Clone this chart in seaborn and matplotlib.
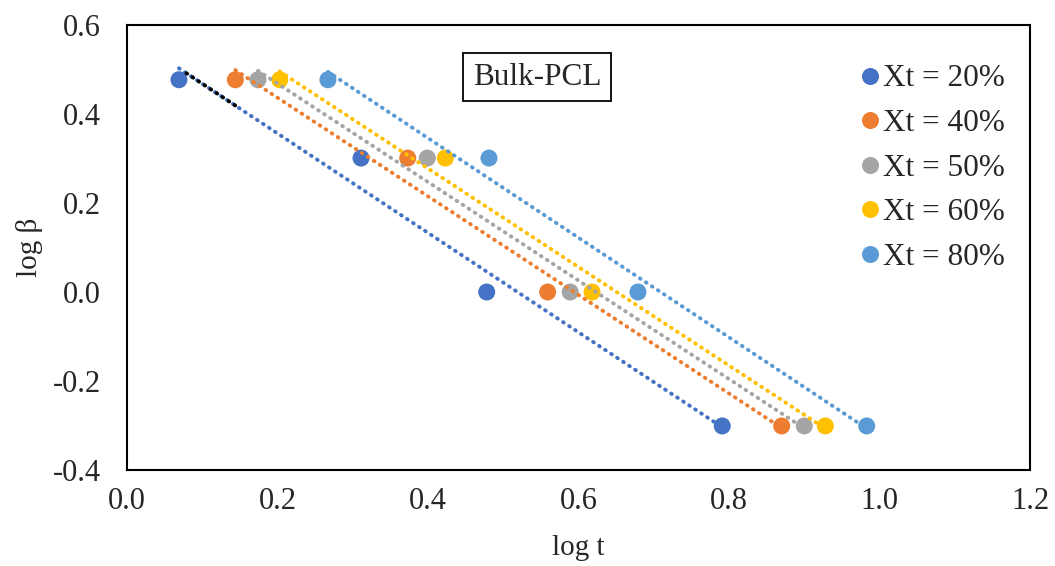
import numpy as np
import pandas as pd
import matplotlib
matplotlib.use("Agg")
import matplotlib.pyplot as plt
import seaborn as sns

# Data
log_beta = [0.477, 0.301, 0.0, -0.301]
series_names = ["Xt = 20%", "Xt = 40%", "Xt = 50%", "Xt = 60%", "Xt = 80%"]
x_20 = [0.069, 0.311, 0.478, 0.791]
x_40 = [0.144, 0.373, 0.559, 0.870]
x_50 = [0.174, 0.399, 0.589, 0.900]
x_60 = [0.203, 0.423, 0.618, 0.928]
x_80 = [0.267, 0.481, 0.679, 0.983]
colors = ["#4472C4", "#ED7D31", "#A5A5A5", "#FFC000", "#5B9BD5"]
x_ticks = [0.0, 0.2, 0.4, 0.6, 0.8, 1.0, 1.2]
y_ticks = [-0.4, -0.2, 0.0, 0.2, 0.4, 0.6]

xs = [x_20, x_40, x_50, x_60, x_80]
df = pd.DataFrame({
    "log t": np.concatenate(xs),
    "log β": np.tile(log_beta, len(xs)),
    "series": np.repeat(series_names, len(log_beta)),
})

sns.set_style("white")
plt.rcParams["font.family"] = ["Liberation Serif", "DejaVu Serif"]

fig = plt.figure(figsize=(10.55, 5.66), dpi=100)
ax = fig.add_axes([0.1204, 0.1696, 0.8559, 0.7862])

sns.scatterplot(data=df, x="log t", y="log β", hue="series", palette=colors,
                s=150, edgecolor="none", ax=ax, zorder=2)

dot = (0, (0.2, 1.65))
lw = 2.8
for name, c in zip(series_names, colors):
    sub = df[df["series"] == name]
    sns.regplot(data=sub, x="log t", y="log β", scatter=False, ci=None, ax=ax,
                truncate=True,
                line_kws=dict(color=c, linestyle=dot, linewidth=lw,
                              dash_capstyle="round", zorder=3))

# short black trendline segment at the start of the 20% series
m, b = np.polyfit(x_20, log_beta, 1)
seg = np.array([x_20[0] + 0.01, x_40[0]])
ax.plot(seg, m * seg + b, color="black", linestyle=dot, linewidth=lw,
        dash_capstyle="round", zorder=4)

ax.set_xlim(0.0, 1.2)
ax.set_ylim(-0.4, 0.6)
ax.set_xticks(x_ticks)
ax.set_yticks(y_ticks)
ax.set_xticklabels([f"{v:.1f}" for v in x_ticks], fontsize=22)
ax.set_yticklabels([f"{v:.1f}" for v in y_ticks], fontsize=22)
ax.tick_params(axis="x", length=0, pad=12)
ax.tick_params(axis="y", length=0, pad=19)
ax.set_xlabel("log t", fontsize=21, labelpad=14)
ax.set_ylabel("log β", fontsize=21, labelpad=7)
for sp in ax.spines.values():
    sp.set_visible(True)
    sp.set_color("black")
    sp.set_linewidth(1.5)

leg = ax.legend(loc="upper right", bbox_to_anchor=(0.9945, 0.957), frameon=False,
                fontsize=22.5, handletextpad=0.0, labelspacing=0.5,
                markerscale=1.0, borderaxespad=0.25, handlelength=0.85)

ax.text(0.454, 0.883, "Bulk-PCL", transform=ax.transAxes, fontsize=22.5,
        ha="center", va="center",
        bbox=dict(boxstyle="square,pad=0.3", facecolor="white",
                  edgecolor="black", linewidth=1.3))

fig.savefig("out.png", dpi=100)
